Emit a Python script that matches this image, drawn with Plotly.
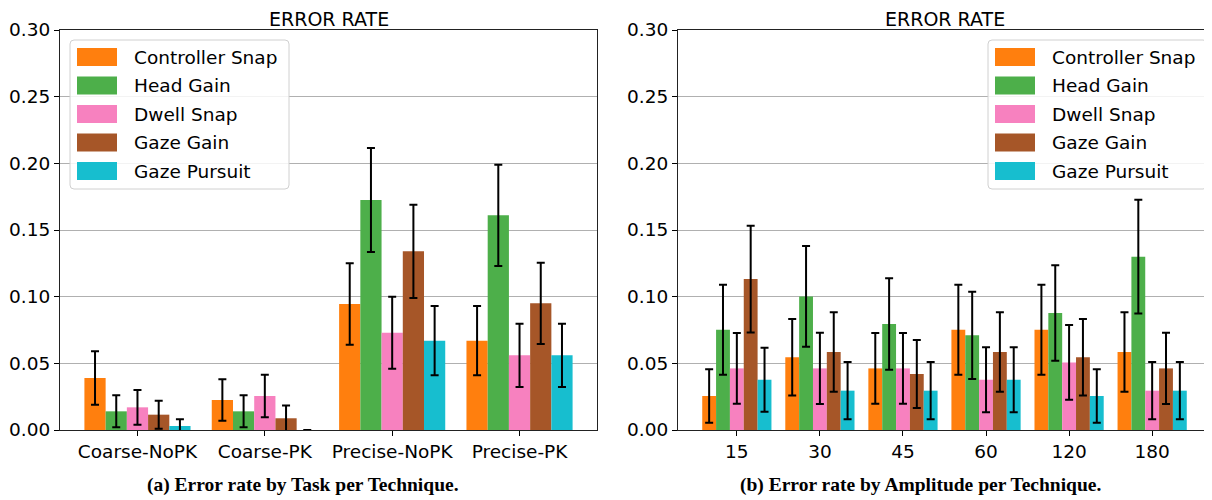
import plotly.graph_objects as go

# ---------------- data ----------------
techniques = ["Controller Snap", "Head Gain", "Dwell Snap", "Gaze Gain", "Gaze Pursuit"]
colors = ["#ff7f0e", "#4daf4a", "#f781bf", "#a65628", "#17becf"]

tasks = ["Coarse-NoPK", "Coarse-PK", "Precise-NoPK", "Precise-PK"]
task_controller_snap = [0.039, 0.0225, 0.0945, 0.067]
task_head_gain = [0.014, 0.014, 0.1725, 0.161]
task_dwell_snap = [0.017, 0.0255, 0.073, 0.056]
task_gaze_gain = [0.0115, 0.0088, 0.134, 0.095]
task_gaze_pursuit = [0.003, 0.0, 0.067, 0.056]
task_controller_snap_err = [0.020, 0.0155, 0.0305, 0.026]
task_head_gain_err = [0.012, 0.012, 0.039, 0.038]
task_dwell_snap_err = [0.013, 0.016, 0.027, 0.0237]
task_gaze_gain_err = [0.0105, 0.0095, 0.035, 0.0305]
task_gaze_pursuit_err = [0.005, 0.0, 0.026, 0.0237]

amplitudes = ["15", "30", "45", "60", "120", "180"]
amp_controller_snap = [0.0255, 0.0545, 0.0462, 0.0752, 0.0752, 0.0585]
amp_head_gain = [0.0752, 0.1002, 0.0795, 0.071, 0.0877, 0.130]
amp_dwell_snap = [0.0462, 0.0462, 0.0462, 0.0377, 0.0507, 0.0295]
amp_gaze_gain = [0.1132, 0.0585, 0.042, 0.0585, 0.0545, 0.0462]
amp_gaze_pursuit = [0.0377, 0.0295, 0.0295, 0.0377, 0.0255, 0.0295]
amp_controller_snap_err = [0.020, 0.0287, 0.0265, 0.0337, 0.0337, 0.0298]
amp_head_gain_err = [0.0337, 0.0378, 0.0344, 0.0327, 0.0358, 0.0427]
amp_dwell_snap_err = [0.0265, 0.0267, 0.0265, 0.0243, 0.028, 0.0215]
amp_gaze_gain_err = [0.040, 0.0298, 0.0255, 0.0298, 0.0287, 0.0267]
amp_gaze_pursuit_err = [0.024, 0.0215, 0.0215, 0.0243, 0.020, 0.0215]

y_ticks = [0.00, 0.05, 0.10, 0.15, 0.20, 0.25, 0.30]

task_series = [task_controller_snap, task_head_gain, task_dwell_snap, task_gaze_gain, task_gaze_pursuit]
task_errs = [task_controller_snap_err, task_head_gain_err, task_dwell_snap_err, task_gaze_gain_err, task_gaze_pursuit_err]
amp_series = [amp_controller_snap, amp_head_gain, amp_dwell_snap, amp_gaze_gain, amp_gaze_pursuit]
amp_errs = [amp_controller_snap_err, amp_head_gain_err, amp_dwell_snap_err, amp_gaze_gain_err, amp_gaze_pursuit_err]

# ---------------- layout helpers ----------------
OFF = 8  # default page body margin
W, H = 1212 - OFF, 500 - OFF
FONT = "DejaVu Sans"


def px(x):
    return (x - OFF) / W


def py(y):
    return 1 - (y - OFF) / H


fig = go.Figure()

for name, col, vals, errs in zip(techniques, colors, task_series, task_errs):
    fig.add_trace(go.Bar(
        x=tasks, y=vals, name=name, marker_color=col, marker_line_width=0,
        error_y=dict(type="data", array=errs, color="black", thickness=2, width=4),
        showlegend=False, xaxis="x", yaxis="y", offsetgroup=name,
    ))

for name, col, vals, errs in zip(techniques, colors, amp_series, amp_errs):
    fig.add_trace(go.Bar(
        x=amplitudes, y=vals, name=name, marker_color=col, marker_line_width=0,
        error_y=dict(type="data", array=errs, color="black", thickness=2, width=4),
        showlegend=False, xaxis="x2", yaxis="y2", offsetgroup=name,
    ))

yaxis_common = dict(
    range=[0, 0.30], tickvals=y_ticks, ticktext=[f"{v:.2f}" for v in y_ticks],
    showgrid=True, gridcolor="#b0b0b0", gridwidth=1, zeroline=False,
    ticks="outside", ticklen=5, tickwidth=1, tickcolor="black",
    showline=True, linecolor="#222", linewidth=1, mirror=True,
    tickfont=dict(family=FONT, size=18.5, color="black"), automargin=False,
)
xaxis_common = dict(
    type="category", showgrid=False, zeroline=False,
    ticks="outside", ticklen=5, tickwidth=1, tickcolor="black",
    showline=True, linecolor="#222", linewidth=1, mirror=True,
    tickfont=dict(family=FONT, size=18.5, color="black"), automargin=False,
)

n_t = len(tasks)
n_a = len(amplitudes)
half = 5 / 12
m_t = 0.05 * (n_t - 1 + 2 * half)
m_a = 0.05 * (n_a - 1 + 2 * half)

fig.update_layout(
    template="none",
    width=W, height=H,
    margin=dict(l=0, r=0, t=0, b=0, autoexpand=False),
    paper_bgcolor="white", plot_bgcolor="white",
    barmode="group", bargap=1 / 6, bargroupgap=0,
    xaxis=dict(domain=[px(60), px(597)], anchor="y",
               range=[-half - m_t, n_t - 1 + half + m_t], **xaxis_common),
    yaxis=dict(domain=[py(430), py(30)], anchor="x", **yaxis_common),
    xaxis2=dict(domain=[px(678), px(1211)], anchor="y2",
                range=[-half - m_a, n_a - 1 + half + m_a], **xaxis_common),
    yaxis2=dict(domain=[py(430), py(30)], anchor="x2", **yaxis_common),
    showlegend=False,
)

annotations = []
shapes = []

# titles (anchored at top of the figure so nothing is clipped)
for cx in [(60 + 597) / 2, (678 + 1211) / 2]:
    annotations.append(dict(text="ERROR RATE", x=px(cx), y=1, xref="paper", yref="paper",
                            showarrow=False, xanchor="center", yanchor="top", yshift=2,
                            font=dict(family=FONT, size=19, color="black")))

# captions
captions = ["(a) Error rate by Task per Technique.", "(b) Error rate by Amplitude per Technique."]
for cx, cap in zip([303, 920], captions):
    annotations.append(dict(text=f"<b>{cap}</b>", x=px(cx), y=py(485), xref="paper", yref="paper",
                            showarrow=False, xanchor="center", yanchor="middle",
                            font=dict(family="Liberation Serif", size=19.5, color="black")))


def rounded_rect(x0, y0, x1, y1, r):
    pts = [
        f"M {px(x0 + r)},{py(y0)}",
        f"L {px(x1 - r)},{py(y0)}",
        f"Q {px(x1)},{py(y0)} {px(x1)},{py(y0 + r)}",
        f"L {px(x1)},{py(y1 - r)}",
        f"Q {px(x1)},{py(y1)} {px(x1 - r)},{py(y1)}",
        f"L {px(x0 + r)},{py(y1)}",
        f"Q {px(x0)},{py(y1)} {px(x0)},{py(y1 - r)}",
        f"L {px(x0)},{py(y0 + r)}",
        f"Q {px(x0)},{py(y0)} {px(x0 + r)},{py(y0)}",
        "Z",
    ]
    return " ".join(pts)


# custom legends (box left, box right, patch left, text left)
legend_specs = [(70, 289, 77, 132), (988, 1207, 995, 1050)]
row_centers = [57, 85.5, 114, 142.5, 171]
for bx0, bx1, patch_x, text_x in legend_specs:
    shapes.append(dict(type="path", path=rounded_rect(bx0, 40, bx1, 189, 4), xref="paper", yref="paper",
                       fillcolor="rgba(255,255,255,0.85)", line=dict(color="#d0d0d0", width=1), layer="above"))
    for name, col, cy in zip(techniques, colors, row_centers):
        shapes.append(dict(type="rect", x0=px(patch_x), x1=px(patch_x + 40), y0=py(cy - 9), y1=py(cy + 9),
                           xref="paper", yref="paper", fillcolor=col, line=dict(width=0), layer="above"))
        annotations.append(dict(text=name, x=px(text_x), y=py(cy), xref="paper", yref="paper",
                                showarrow=False, xanchor="left", yanchor="middle",
                                font=dict(family=FONT, size=18.5, color="black")))

fig.update_layout(annotations=annotations, shapes=shapes)

fig.write_html("out.html")
